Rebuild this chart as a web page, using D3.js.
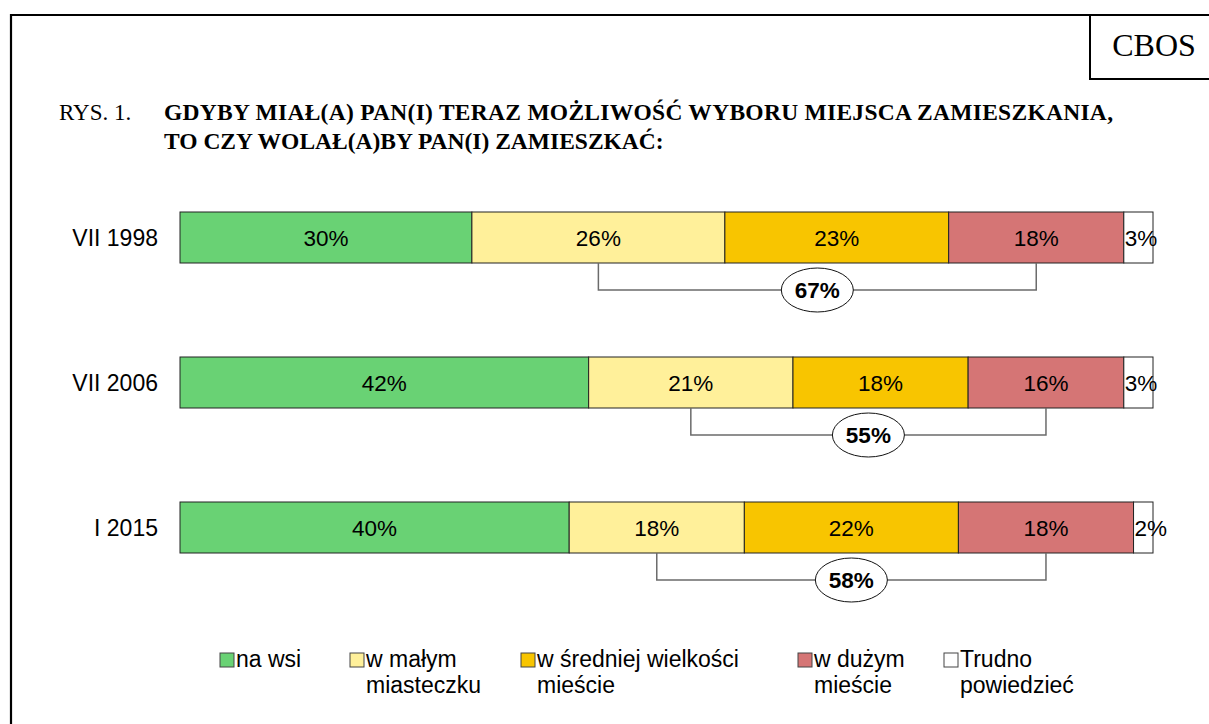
<!DOCTYPE html>
<html>
<head>
<meta charset="utf-8">
<script src="https://cdn.jsdelivr.net/npm/d3@7"></script>
<style>
  html, body { margin: 0; padding: 0; background: #fff; }
  svg { display: block; }
</style>
</head>
<body>
<svg id="chart" width="1209" height="724"></svg>
<script>
// ─── Data ──────────────────────────────────────
const periods  = ['VII 1998', 'VII 2006', 'I 2015'];
const answers  = ['na wsi', 'w małym miasteczku', 'w średniej wielkości mieście', 'w dużym mieście', 'Trudno powiedzieć'];
const values   = [
  [30, 26, 23, 18, 3],
  [42, 21, 18, 16, 3],
  [40, 18, 22, 18, 2]
];
const cityTotals = [67, 55, 58];           // w małym + średnim + dużym
const legendLines = [
  ['na wsi'],
  ['w małym', 'miasteczku'],
  ['w średniej wielkości', 'mieście'],
  ['w dużym', 'mieście'],
  ['Trudno', 'powiedzieć']
];
const colors = ['#69d274', '#fff09a', '#f8c500', '#d57575', '#ffffff'];

// ─── Setup ─────────────────────────────────────
const svg  = d3.select('#chart');
const sans = 'Liberation Sans, Arial, sans-serif',
      serif = 'Liberation Serif, Times New Roman, serif';

const x = d3.scaleLinear().domain([0, 100]).range([180, 1153]);
const y = d3.scaleBand().domain(periods).range([212, 553]).paddingInner(94 / 145);
const color = d3.scaleOrdinal(answers, colors);

// ─── Frame & header ────────────────────────────
svg.append('path')
  .attr('d', 'M11,724 V15 H1209')
  .attr('fill', 'none').attr('stroke', '#000').attr('stroke-width', 2.2);
svg.append('path')
  .attr('d', 'M1090,15 V79 H1209')
  .attr('fill', 'none').attr('stroke', '#000').attr('stroke-width', 2);
svg.append('text')
  .attr('x', 1154).attr('y', 56).attr('text-anchor', 'middle')
  .style('font', `32px ${serif}`).text('CBOS');

svg.append('text').attr('x', 59).attr('y', 120)
  .style('font', `23px ${serif}`).text('RYS. 1.');
const title = svg.append('text').style('font', `bold 23.5px ${serif}`);
title.append('tspan').attr('x', 164).attr('y', 120)
  .attr('textLength', 949).attr('lengthAdjust', 'spacing')
  .text('GDYBY MIAŁ(A) PAN(I) TERAZ MOŻLIWOŚĆ WYBORU MIEJSCA ZAMIESZKANIA,');
title.append('tspan').attr('x', 164).attr('y', 149)
  .text('TO CZY WOLAŁ(A)BY PAN(I) ZAMIESZKAĆ:');

// ─── Bars ──────────────────────────────────────
const rows = periods.map((p, i) => {
  let acc = 0;
  const segs = values[i].map((v, j) => {
    const s = { period: p, key: answers[j], value: v, x0: acc, x1: acc + v, last: j === answers.length - 1 };
    acc += v;
    return s;
  });
  return { period: p, segs, total: cityTotals[i] };
});

const row = svg.selectAll('.row').data(rows).enter().append('g').attr('class', 'row');

row.append('text')
  .attr('x', 158).attr('y', d => y(d.period) + y.bandwidth() / 2 + 8)
  .attr('text-anchor', 'end')
  .style('font', `23px ${sans}`)
  .text(d => d.period);

row.selectAll('rect').data(d => d.segs).enter().append('rect')
  .attr('x', d => x(d.x0))
  .attr('y', d => y(d.period))
  .attr('width', d => x(d.x1) - x(d.x0))
  .attr('height', y.bandwidth())
  .attr('fill', d => color(d.key))
  .attr('stroke', '#222').attr('stroke-width', 1);

row.selectAll('.val').data(d => d.segs).enter().append('text')
  .attr('class', 'val')
  .attr('x', d => d.last ? x(d.x0) + 1 : (x(d.x0) + x(d.x1)) / 2)
  .attr('y', d => y(d.period) + y.bandwidth() / 2 + 8)
  .attr('text-anchor', d => d.last ? 'start' : 'middle')
  .style('font', `22.5px ${sans}`)
  .text(d => d.value + '%');

// ─── Brackets with totals ──────────────────────
row.each(function(d) {
  const g  = d3.select(this),
        s2 = d.segs[1], s4 = d.segs[3],
        xa = x((s2.x0 + s2.x1) / 2),
        xb = x((s4.x0 + s4.x1) / 2),
        yt = y(d.period) + y.bandwidth(),
        yb = yt + 27,
        xm = (xa + xb) / 2;

  g.append('path')
    .attr('d', `M${xa},${yt} V${yb} H${xb} V${yt}`)
    .attr('fill', 'none').attr('stroke', '#6b6b6b').attr('stroke-width', 1.5);
  g.append('ellipse')
    .attr('cx', xm).attr('cy', yb).attr('rx', 36).attr('ry', 22)
    .attr('fill', '#fff').attr('stroke', '#111').attr('stroke-width', 1);
  g.append('text')
    .attr('x', xm).attr('y', yb + 8).attr('text-anchor', 'middle')
    .style('font', `bold 22.5px ${sans}`)
    .text(d.total + '%');
});

// ─── Legend ────────────────────────────────────
const legendX = [220, 350, 521, 798, 944];
const lg = svg.selectAll('.legend').data(answers).enter().append('g')
  .attr('class', 'legend')
  .attr('transform', (d, i) => `translate(${legendX[i]},653)`);

lg.append('rect')
  .attr('width', 14).attr('height', 14)
  .attr('fill', d => color(d))
  .attr('stroke', '#444').attr('stroke-width', 1);

lg.append('text')
  .style('font', `23px ${sans}`)
  .each(function(d, i) {
    d3.select(this).selectAll('tspan').data(legendLines[i]).enter().append('tspan')
      .attr('x', 16).attr('y', (t, k) => 14 + k * 26)
      .text(t => t);
  });
</script>
</body>
</html>
